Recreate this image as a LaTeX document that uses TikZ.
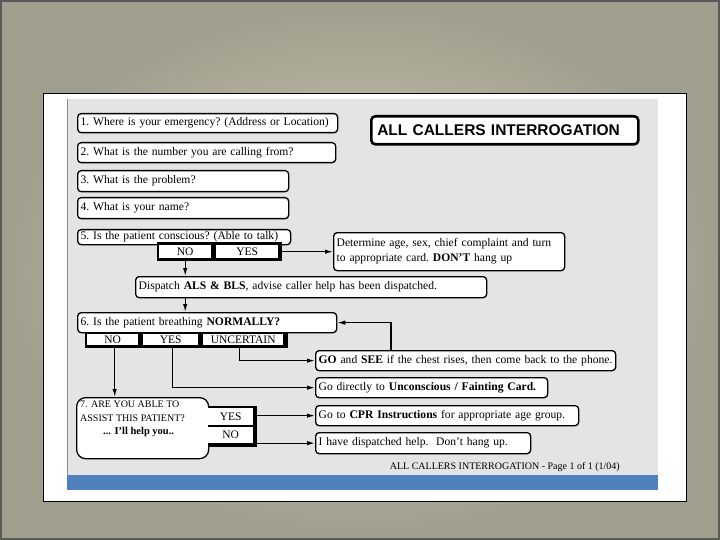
\documentclass[tikz,border=0pt]{standalone}
\usepackage{fontspec}
\setmainfont{Liberation Serif}
\newfontfamily\titlefont{Liberation Sans}
\usetikzlibrary{arrows.meta}
\definecolor{bgin}{RGB}{210,205,182}
\definecolor{bgout}{RGB}{160,158,141}
\definecolor{panel}{RGB}{228,228,228}
\definecolor{bluebar}{RGB}{79,129,189}
\newcommand{\qfont}{\fontsize{11.6}{15}\selectfont}
\newcommand{\cellfont}{\fontsize{11.5}{13}\selectfont}
\tikzset{
  qbox/.style={draw=black, line width=1.3pt, rounded corners=3.5pt, fill=white,
    anchor=north west, inner xsep=3pt, inner ysep=0pt, align=left, font=\qfont,
    execute at begin node={\frenchspacing\hyphenpenalty=10000}},
  barbox/.style={fill=black, draw=none, anchor=north west, inner sep=0pt},
  cellbox/.style={fill=white, draw=none, anchor=north west, inner sep=0pt,
    align=center, font=\cellfont},
  conn/.style={line width=1.3pt, -{Latex[length=8pt,width=4.5pt]}},
}
\begin{document}
\begin{tikzpicture}[x=1pt,y=-1pt]
\useasboundingbox (0,0) rectangle (720,540);
% background
\shade[inner color=bgin, outer color=bgout] (0,0) rectangle (720,540);
\draw[line width=2pt, color=black!65] (1,1) rectangle (719,539);
% paper
\fill[white] (43,93) rectangle (686,501);
\draw[line width=0.8pt, black] (43,93) rectangle (686,501);
\fill[panel] (67,99) rectangle (658,475);
\fill[bluebar] (67,475) rectangle (658,490);
\draw[line width=0.8pt, black!45] (67,99) -- (67,475);

% boxes
\node[qbox, text width=254pt, minimum height=19pt] (q1) at (77,113) {\mbox{1. Where is your emergency? (Address or Location)}};
\node[qbox, text width=252pt, minimum height=20pt] (q2) at (77,142) {\mbox{2. What is the number you are calling from?}};
\node[qbox, text width=205pt, minimum height=21pt] (q3) at (77,170) {\mbox{3. What is the problem?}};
\node[qbox, text width=205pt, minimum height=21pt] (q4) at (77,197) {\mbox{4. What is your name?}};
\node[qbox, text width=207pt, minimum height=15pt] (q5) at (77,229) {\mbox{5. Is the patient conscious? (Able to talk)}};
\node[qbox, line width=2.6pt, rounded corners=4pt, text width=255pt, minimum height=28pt, inner xsep=6pt,
  font=\titlefont\bfseries\fontsize{15.5}{18}\selectfont] (title) at (370,115) {ALL CALLERS INTERROGATION};
\node[qbox, text width=225pt, minimum height=38pt] (det) at (333,232) {\mbox{Determine age, sex, chief complaint and turn}\\\mbox{to appropriate card. \textbf{DON'T} hang up}};
\node[qbox, text width=345pt, minimum height=21pt] (disp) at (135,276) {\mbox{Dispatch \textbf{ALS \& BLS}, advise caller help has been dispatched.}};
\node[qbox, text width=253pt, minimum height=20pt] (q6) at (77,312) {\mbox{6. Is the patient breathing \textbf{NORMALLY?}}};
\node[qbox, text width=294pt, minimum height=20pt] (go) at (315,350) {\mbox{\textbf{GO} and \textbf{SEE} if the chest rises, then come back to the phone.}};
\node[qbox, text width=226pt, minimum height=20pt] (direct) at (315,377) {\mbox{Go directly to \textbf{Unconscious / Fainting Card.}}};
\node[qbox, text width=257pt, minimum height=20pt] (cpr) at (315,405) {\mbox{Go to \textbf{CPR Instructions} for appropriate age group.}};
\node[qbox, text width=209pt, minimum height=21pt] (disp2) at (315,432) {\mbox{I have dispatched help.\ \ Don't hang up.}};
\node[qbox, rounded corners=9pt, text width=126pt, minimum height=61pt] (q7) at (76,397) {};
\node[anchor=north west, inner sep=0pt, align=left, font=\fontsize{10}{13.5}\selectfont] (q7t) at (80,401)
  {7. ARE YOU ABLE TO\\ASSIST THIS PATIENT?\\\hspace*{23pt}\fontsize{10.5}{13.5}\selectfont\bfseries ... I'll help you..};

% answer bars
\node[barbox, minimum width=125pt, minimum height=19pt] (bar5) at (157,242) {};
\node[cellbox, minimum width=52pt, minimum height=13pt] (no5) at (159,245) {NO};
\node[cellbox, minimum width=62pt, minimum height=13pt] (yes5) at (216,245) {YES};

\node[barbox, minimum width=203pt, minimum height=16pt] (bar6) at (85,332) {};
\node[cellbox, minimum width=51pt, minimum height=11pt] (no6) at (87,334) {NO};
\node[cellbox, minimum width=55pt, minimum height=11pt] (yes6) at (143,334) {YES};
\node[cellbox, minimum width=80pt, minimum height=11pt] (unc6) at (203,334) {UNCERTAIN};

\node[barbox, minimum width=49pt, minimum height=41pt] (bar7) at (208,406) {};
\node[cellbox, minimum width=45pt, minimum height=17pt] (yes7) at (208,408) {YES};
\node[cellbox, minimum width=45pt, minimum height=16pt] (no7) at (208,427) {NO};

% footer
\node[anchor=east, inner sep=0pt, font=\fontsize{10}{12}\selectfont] (foot) at (620,467) {ALL CALLERS INTERROGATION - Page 1 of 1 (1/04)};

% connectors
\coordinate (goTop) at (391,350);
\draw[conn] (yes5.east) -- (yes5.east -| det.west);
\draw[conn] (no5.south) -- (no5.south |- disp.north);
\draw[conn] (disp.south -| no5.south) -- (no5.south |- q6.north);
\draw[conn] (goTop) |- (q6.east);
\draw[conn] ([xshift=-4pt]unc6.south) |- (go.west);
\draw[conn] ([xshift=2pt]yes6.south) |- (direct.west);
\draw[conn] ([xshift=2pt]no6.south) -- ([xshift=2pt]no6.south |- q7.north);
\draw[conn] (bar7.east |- cpr.west) -- (cpr.west);
\draw[conn] (bar7.east |- disp2.west) -- (disp2.west);
\end{tikzpicture}
\end{document}
